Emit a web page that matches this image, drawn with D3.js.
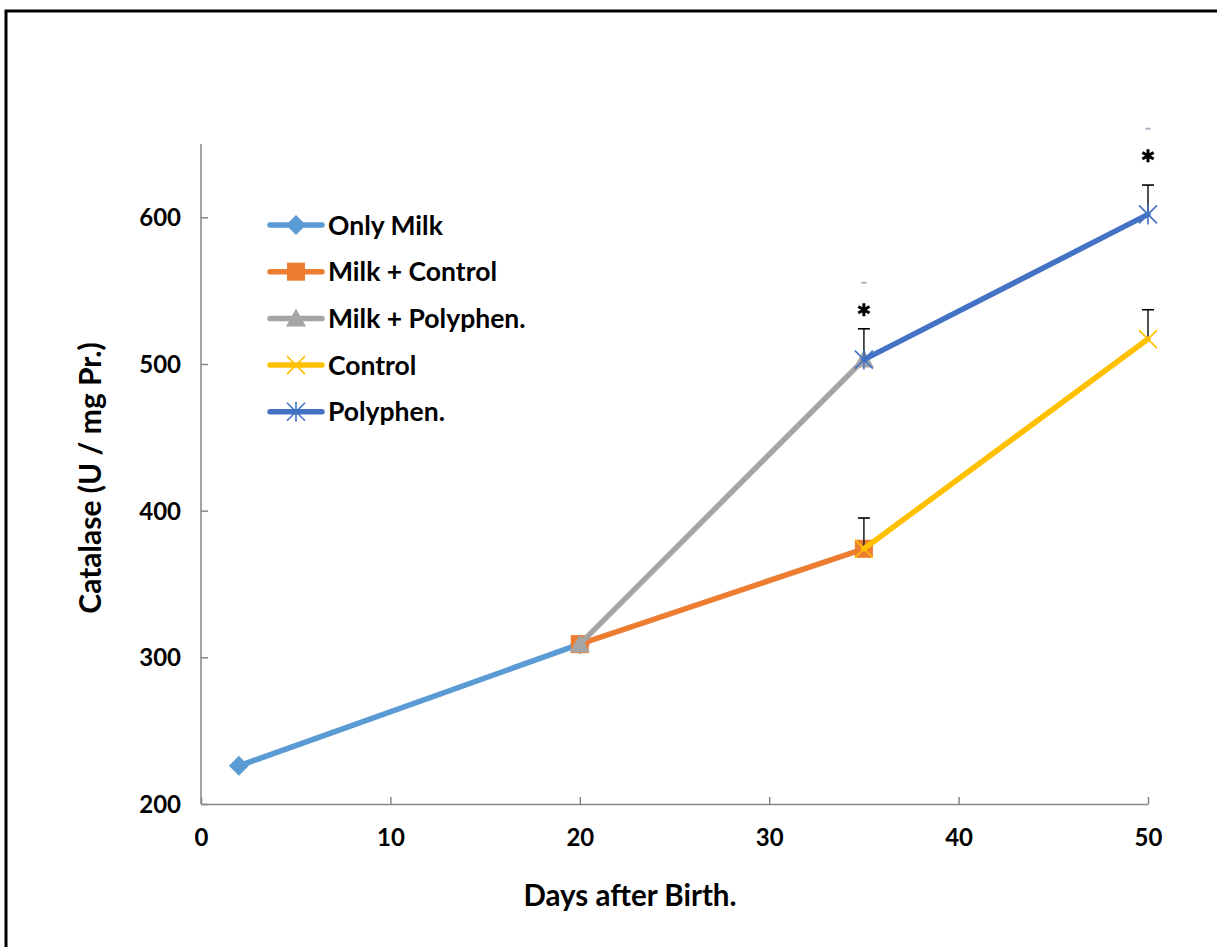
<!DOCTYPE html>
<html>
<head>
<meta charset="utf-8">
<script src="https://cdn.jsdelivr.net/npm/d3@7"></script>
<style>
  html, body { margin: 0; padding: 0; background: #fff; }
  svg { display: block; font-family: Lato, "Open Sans", "Liberation Sans", sans-serif; }
</style>
</head>
<body>
<script>
// Catalase activity by age and diet group
const seriesNames = ["Only Milk", "Milk + Control", "Milk + Polyphen.", "Control", "Polyphen."];
const seriesColors = ["#5B9BD5", "#ED7D31", "#A5A5A5", "#FFC000", "#4472C4"];
const seriesMarkers = ["diamond", "square", "triangle", "x", "star"];

const onlyMilkDays = [2, 20];
const onlyMilkValues = [226, 309];
const milkControlDays = [20, 35];
const milkControlValues = [309, 374];
const milkPolyDays = [20, 35];
const milkPolyValues = [309, 503];
const controlDays = [35, 50];
const controlValues = [374, 517];
const polyDays = [35, 50];
const polyValues = [503, 602];

// upper error bars (only the later time points carry them)
const controlErrors = [21, 20];
const polyErrors = [21, 20];
// significance marks above the polyphenol group
const signifDays = [35, 50];
const signifLevels = [537, 642];

const xTicks = [0, 10, 20, 30, 40, 50];
const yTicks = [200, 300, 400, 500, 600];

const series = [
  { days: onlyMilkDays, values: onlyMilkValues, errors: null },
  { days: milkControlDays, values: milkControlValues, errors: null },
  { days: milkPolyDays, values: milkPolyValues, errors: null },
  { days: controlDays, values: controlValues, errors: controlErrors },
  { days: polyDays, values: polyValues, errors: polyErrors }
];

const W = 1217, H = 947;
const svg = d3.select("body").append("svg").attr("width", W).attr("height", H);

// frame around the figure (open at bottom and right)
svg.append("path")
  .attr("d", `M6,${H} L6,11 L${W + 5},11`)
  .attr("fill", "none").attr("stroke", "#000").attr("stroke-width", 3);

const x = d3.scaleLinear().domain([0, 50]).range([201, 1148]);
const y = d3.scaleLinear().domain([200, 650]).range([804, 144]);

// axes
const axisColor = "#868686";
const gx = svg.append("g").attr("transform", `translate(0,${y(200)})`)
  .call(d3.axisBottom(x).tickValues(xTicks).tickSize(-7).tickPadding(25).tickSizeOuter(0));
const gy = svg.append("g").attr("transform", `translate(${x(0)},0)`)
  .call(d3.axisLeft(y).tickValues(yTicks).tickSize(-7).tickPadding(20).tickSizeOuter(0));
[gx, gy].forEach(g => {
  g.select(".domain").attr("stroke", axisColor).attr("stroke-width", 1.5);
  g.selectAll(".tick line").attr("stroke", axisColor).attr("stroke-width", 1.5);
  g.selectAll(".tick text").attr("fill", "#000").attr("font-size", 24).attr("font-weight", "bold")
    .attr("font-family", "Lato, 'Open Sans', sans-serif");
});
gy.selectAll(".tick text").attr("dy", "0.36em");
gx.selectAll(".tick text").attr("dy", "0.71em");
// y axis line extends up to the top of the value range
gy.select(".domain").attr("d", `M0,${y(200)}V${y(650)}`);

// axis titles
svg.append("text")
  .attr("x", 630).attr("y", 906)
  .attr("text-anchor", "middle").attr("font-size", 29.5).attr("font-weight", "bold")
  .text("Days after Birth.");
svg.append("text")
  .attr("transform", `translate(101,478) rotate(-90)`)
  .attr("text-anchor", "middle").attr("font-size", 30).attr("font-weight", "bold")
  .text("Catalase (U / mg Pr.)");

// marker shapes
function drawMarker(g, type, cx, cy, color) {
  if (type === "diamond") {
    g.append("path").attr("d", `M${cx},${cy - 10}L${cx + 10},${cy}L${cx},${cy + 10}L${cx - 10},${cy}Z`).attr("fill", color);
  } else if (type === "square") {
    g.append("rect").attr("x", cx - 9).attr("y", cy - 9).attr("width", 18).attr("height", 18).attr("fill", color);
  } else if (type === "triangle") {
    g.append("path").attr("d", `M${cx},${cy - 10}L${cx + 10},${cy + 8}L${cx - 10},${cy + 8}Z`).attr("fill", color);
  } else if (type === "x") {
    g.append("path").attr("d", `M${cx - 9},${cy - 9}L${cx + 9},${cy + 9}M${cx + 9},${cy - 9}L${cx - 9},${cy + 9}`)
      .attr("stroke", color).attr("stroke-width", 1.6);
  } else if (type === "star") {
    g.append("path").attr("d", `M${cx - 9},${cy - 9}L${cx + 9},${cy + 9}M${cx + 9},${cy - 9}L${cx - 9},${cy + 9}M${cx},${cy - 10}L${cx},${cy + 10}`)
      .attr("stroke", color).attr("stroke-width", 1.6);
  }
}

const line = d3.line().x(d => x(d[0])).y(d => y(d[1]));

series.forEach((s, i) => {
  const g = svg.append("g");
  const pts = s.days.map((d, j) => [d, s.values[j]]);
  if (s.errors) {
    pts.forEach((p, j) => {
      const top = y(p[1] + s.errors[j]);
      g.append("line").attr("x1", x(p[0])).attr("x2", x(p[0]))
        .attr("y1", y(p[1])).attr("y2", top).attr("stroke", "#262626").attr("stroke-width", 1.6);
      g.append("line").attr("x1", x(p[0]) - 6).attr("x2", x(p[0]) + 6)
        .attr("y1", top).attr("y2", top).attr("stroke", "#000").attr("stroke-width", 1.6);
    });
  }
  g.append("path").datum(pts).attr("d", line)
    .attr("fill", "none").attr("stroke", seriesColors[i]).attr("stroke-width", 5.5)
    .attr("stroke-linecap", "round");
  pts.forEach(p => drawMarker(g, seriesMarkers[i], x(p[0]), y(p[1]), seriesColors[i]));
});

// significance asterisks, each with a faint tick above it
signifDays.forEach((d, j) => {
  const cx = x(d);
  const cy = y(signifLevels[j]);
  const r = 6.5;
  let a = "";
  for (let k = 0; k < 3; k++) {
    const ang = Math.PI / 2 + k * Math.PI / 3;
    const dx = r * Math.cos(ang), dy = r * Math.sin(ang);
    a += `M${cx - dx},${cy - dy}L${cx + dx},${cy + dy}`;
  }
  svg.append("path").attr("d", a).attr("stroke", "#000").attr("stroke-width", 3).attr("fill", "none");
  svg.append("circle").attr("cx", cx).attr("cy", cy).attr("r", 3).attr("fill", "#000");
  svg.append("rect").attr("x", cx - 2.5).attr("y", cy - 28).attr("width", 5).attr("height", 2)
    .attr("fill", "#aab2bf");
});

// legend
const legend = svg.append("g");
seriesNames.forEach((name, i) => {
  const ly = 225 + i * 46.7;
  legend.append("line").attr("x1", 270).attr("x2", 322).attr("y1", ly).attr("y2", ly)
    .attr("stroke", seriesColors[i]).attr("stroke-width", 5.5).attr("stroke-linecap", "round");
  drawMarker(legend, seriesMarkers[i], 296, ly, seriesColors[i]);
  legend.append("text").attr("x", 328).attr("y", ly).attr("dy", "0.36em")
    .attr("font-size", 26.5).attr("font-weight", "bold").text(name);
});
</script>
</body>
</html>
